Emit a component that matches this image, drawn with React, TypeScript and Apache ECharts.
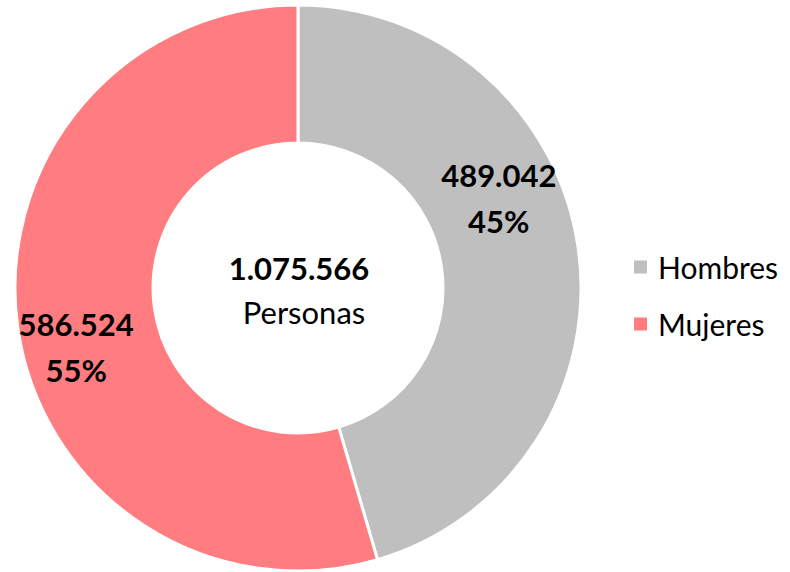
import React, { useEffect, useRef } from "react";
import * as echarts from "echarts";

const categories = ["Hombres", "Mujeres"];
const values = [489042, 586524];
const colors = ["#BFBFBF", "#FF7C80"];
const centerSubtitle = "Personas";

const fmt = (n: number) => String(n).replace(/\B(?=(\d{3})+(?!\d))/g, ".");

export default function App() {
  const ref = useRef<HTMLDivElement>(null);
  useEffect(() => {
    if (!ref.current) return;
    const chart = echarts.init(ref.current, undefined, { renderer: "svg" });
    const total = values.reduce((a, b) => a + b, 0);
    const offsets: [number, number][] = [
      [-14, -59],
      [-7, 28],
    ];
    const font = "Lato, 'Noto Sans', sans-serif";
    chart.setOption({
      animation: false,
      legend: {
        orient: "vertical",
        left: 632,
        top: 252,
        padding: 0,
        itemWidth: 15,
        itemHeight: 15,
        itemGap: 27,
        icon: "rect",
        data: categories,
        textStyle: {
          fontFamily: font,
          fontSize: 30,
          lineHeight: 30,
          color: "#000",
          padding: [0, 0, 0, 5],
        },
      },
      graphic: [
        {
          type: "text",
          x: 299,
          y: 268,
          style: {
            text: fmt(total),
            font: `bold 31px ${font}`,
            fill: "#000",
            textAlign: "center",
            textVerticalAlign: "middle",
          },
        },
        {
          type: "text",
          x: 304,
          y: 312,
          style: {
            text: centerSubtitle,
            font: `31px ${font}`,
            fill: "#000",
            textAlign: "center",
            textVerticalAlign: "middle",
          },
        },
      ],
      series: [
        {
          type: "pie",
          center: [298, 288],
          radius: [145, 283],
          startAngle: 90,
          clockwise: true,
          itemStyle: { borderColor: "#fff", borderWidth: 3 },
          emphasis: { disabled: true },
          label: {
            position: "inside",
            fontFamily: font,
            fontWeight: "bold",
            fontSize: 31,
            lineHeight: 46,
            color: "#000",
            formatter: (p: any) =>
              `${fmt(p.value)}\n${Math.round((p.value / total) * 100)}%`,
          },
          data: categories.map((c, i) => ({
            name: c,
            value: values[i],
            itemStyle: { color: colors[i] },
            label: { offset: offsets[i] },
          })),
        },
      ],
    });
    return () => chart.dispose();
  }, []);
  return (
    <div
      ref={ref}
      style={{ position: "absolute", left: 0, top: 0, width: 790, height: 572 }}
    />
  );
}
